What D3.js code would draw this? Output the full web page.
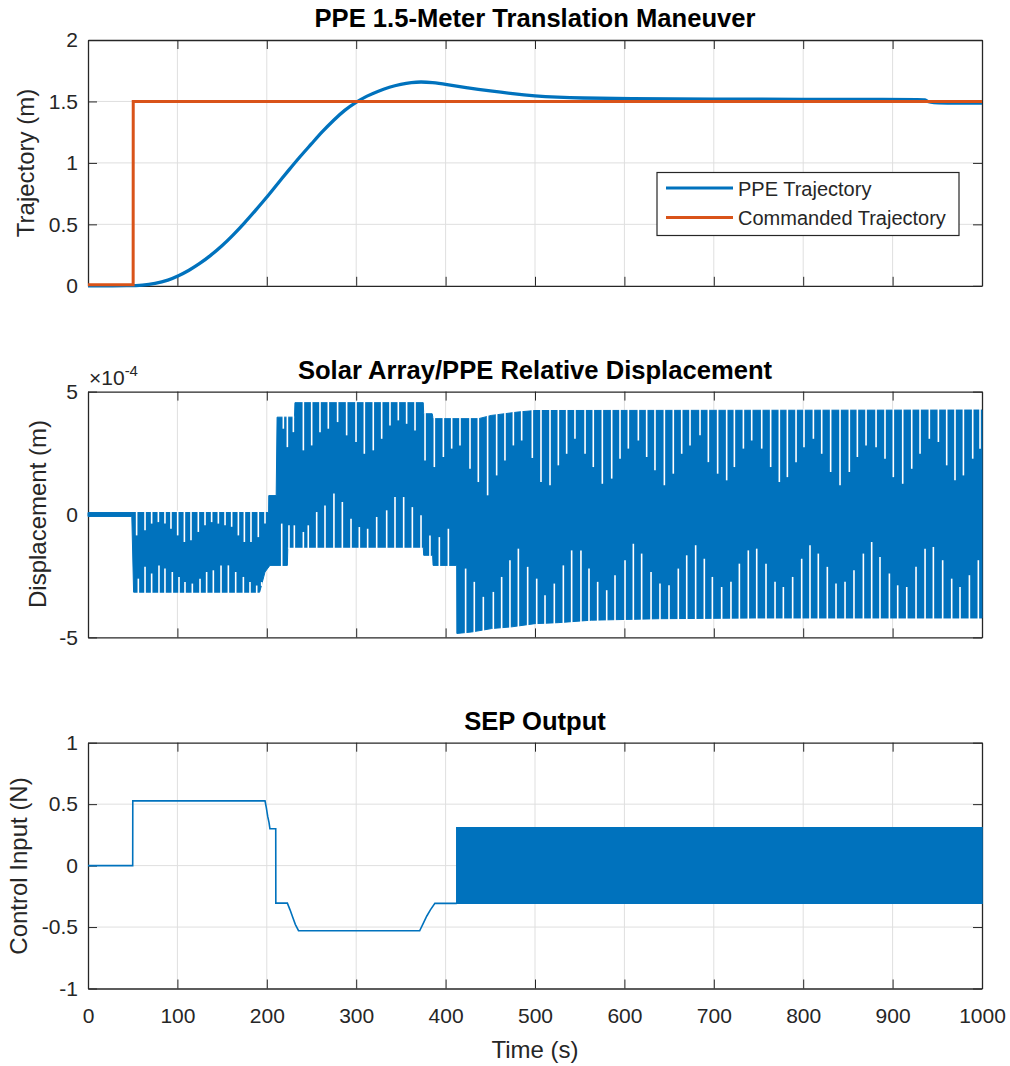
<!DOCTYPE html>
<html lang="en">
<head>
<meta charset="utf-8">
<script src="https://cdn.jsdelivr.net/npm/d3@7"></script>
<style>
  body { margin: 0; background: #fff; }
  text { font-family: "Liberation Sans", Arial, Helvetica, sans-serif; fill: #262626; }
</style>
</head>
<body>
<script>
// ---- data ----
const xTicks = [0, 100, 200, 300, 400, 500, 600, 700, 800, 900, 1000];
const trajTicks = [0, 0.5, 1, 1.5, 2];
const dispTicks = [-5, 0, 5];          // x 1e-4
const ctrlTicks = [-1, -0.5, 0, 0.5, 1];

// PPE trajectory (m)
const ppeT = [0, 50, 60, 75, 90, 101, 113, 125, 137, 150, 162, 175, 187, 200, 212, 225, 237, 250, 262, 275, 287, 300, 312, 325, 337, 350, 362, 372, 385, 400, 425, 450, 475, 500, 525, 550, 600, 700, 800, 900, 932, 936, 939, 942, 1000];
const ppeV = [0, 0, 0.004, 0.018, 0.045, 0.08, 0.125, 0.18, 0.245, 0.325, 0.41, 0.51, 0.61, 0.72, 0.83, 0.945, 1.05, 1.155, 1.255, 1.35, 1.43, 1.495, 1.545, 1.585, 1.617, 1.64, 1.655, 1.66, 1.655, 1.64, 1.61, 1.585, 1.562, 1.545, 1.535, 1.528, 1.522, 1.519, 1.517, 1.516, 1.515, 1.515, 1.5, 1.487, 1.487];
// commanded trajectory (m)
const cmdT = [0, 50.5, 50.6, 1000];
const cmdV = [0.008, 0.008, 1.5, 1.5];

// relative displacement envelope (x 1e-4 m)
const hiT = [0, 202, 202.2, 210.5, 211.5, 231, 231.5, 375, 375.5, 385, 386, 437, 451, 481, 500, 1000];
const hiV = [0.08, 0.08, 0.77, 0.77, 3.96, 3.96, 4.55, 4.55, 4.1, 4.1, 3.9, 3.9, 4.03, 4.17, 4.23, 4.25];
const loT = [0, 49, 51, 192, 198, 203.5, 223, 223.5, 375, 375.5, 385.5, 386, 412.4, 412.6, 429, 451.5, 474, 500, 526, 563, 638, 746, 1000];
const loV = [-0.08, -0.08, -3.16, -3.16, -2.34, -2.07, -2.07, -1.33, -1.33, -1.66, -1.66, -2.07, -2.07, -4.84, -4.78, -4.64, -4.57, -4.44, -4.4, -4.3, -4.24, -4.21, -4.21];
// gaps in the oscillation band: from the upper edge down to value
const topSlitT = [54.4, 63.8, 71.2, 78.7, 86.1, 92.8, 100.3, 107.8, 115.2, 123.4, 130.9, 138.3, 145.8, 153.3, 160.7, 168.2, 174.9, 182.3, 190.5, 198,
  218.5, 223, 229.7, 240.9,
  250.2, 259.5, 268.8, 279.2, 289.3, 299.8, 309.1, 319.1, 328.5, 337.8, 347.1, 356.4, 365.8, 377, 387.4, 397.5, 406.8, 416.1, 427.3, 436.6, 447, 457.1, 466.4, 475.8, 485.1,
  497, 506.7, 516.8, 526.1, 535.4, 544.7, 556, 565.2, 575.3, 585.8, 595.1, 604.4, 615.6, 624.9, 634.2, 644.7, 654.7, 664.1, 673.4, 684.6, 693.9, 704.3, 714.4, 723, 733.1, 742.4,
  753.6, 763.6, 773.3, 782.3, 792, 800.9, 811.4, 820.7, 830.7, 841.2, 851.6, 860.6, 870.3, 881.5, 891.5, 900.8, 911.3, 921.4, 930.7, 941.1, 951.2, 960.5, 969.8, 979.2, 989.6, 997.8];
const topSlitV = [-0.85, -0.64, -0.37, -0.31, -0.37, -0.58, -0.85, -1.12, -1.05, -0.71, -0.44, -0.31, -0.37, -0.44, -0.5, -0.85, -1.12, -1.12, -0.92, -0.37,
  3.49, 2.74, 3.35, 2.61,
  2.81, 3.35, 3.49, 3.76, 3.22, 2.95, 2.47, 2.61, 3.08, 3.62, 3.83, 3.69, 3.42, 2.2, 1.93, 2.34, 2.68, 2.81, 1.86, 1.32, 0.78, 1.59, 2.2, 2.81, 3.01,
  2.3, 1.32, 1.19, 2.0, 2.47, 3.08, 2.47, 1.93, 1.25, 1.46, 2.27, 2.68, 3.01, 2.34, 1.8, 1.19, 1.66, 2.47, 2.81, 3.22, 2.13, 1.66, 1.39, 1.93, 2.68, 3.01,
  2.68, 1.93, 1.32, 1.52, 2.13, 2.74, 3.08, 2.47, 1.73, 1.19, 1.73, 2.34, 2.81, 2.74, 2.27, 1.52, 1.25, 1.86, 2.47, 3.08, 2.95, 2.0, 1.39, 1.59, 2.27, 2.68];
// gaps from the lower edge up to value
const botSlitT = [56.3, 63.8, 71.2, 79.4, 86.1, 94.3, 101.8, 108.5, 116.7, 125.3, 132.7, 140.2, 148.8, 157, 165.2, 173.8, 181.2, 188.7, 194.3,
  216.7, 224.8, 230.8, 240.9,
  246.4, 255.8, 265.1, 275.1, 284.5, 294.2, 303.5, 312.8, 322.9, 334.1, 343.4, 353.1, 362.8, 372.5, 382.5, 393, 403.1, 422.4, 432.1, 442.2, 453.4, 462.7, 472, 481.4,
  491.8, 501.9, 511.2, 521.6, 531.7, 541, 551.4, 560.4, 570.1, 580.2, 589.5, 600.7, 610, 619.3, 629.8, 639.8, 649.9, 660.3, 669.7, 679.7, 689.4, 698.4, 708.8, 719.2, 728.6, 738.6,
  748, 758.4, 768.5, 777.8, 788.2, 798.3, 807.6, 816.9, 827, 836.7, 846.8, 856.8, 867.3, 876.6, 885.9, 896.4, 905.7, 915.8, 926.2, 936.3, 945.6, 956, 966.1, 975.4, 985.9, 995.9];
const botSlitV = [-2.61, -2.13, -2.4, -2.07, -2.2, -2.34, -2.54, -2.75, -2.81, -2.61, -2.34, -2.27, -2.07, -2.07, -2.34, -2.54, -2.75, -2.89, -2.75,
  -0.37, -0.44, -0.44, -0.71,
  -0.44, 0.1, 0.37, 0.85, 0.51, -0.17, -0.51, -0.58, -0.1, 0.17, 0.71, 0.71, 0.3, -0.03, -0.85, -0.92, -0.58, -2.2, -2.74, -3.35, -3.15, -2.54, -1.86, -1.39,
  -2.13, -2.61, -3.29, -2.81, -2.07, -1.46, -1.46, -2.2, -2.74, -3.08, -2.47, -1.86, -1.19, -1.59, -2.34, -2.81, -2.88, -2.2, -1.66, -1.25, -1.8, -2.54, -2.95, -2.74, -2.0, -1.46,
  -1.39, -2.0, -2.74, -2.95, -2.54, -1.8, -1.25, -1.59, -2.13, -2.81, -2.74, -2.27, -1.59, -1.12, -1.73, -2.4, -2.88, -2.95, -2.13, -1.39, -1.32, -1.86, -2.61, -2.95, -2.47, -1.86];

// SEP output (N)
const ctrlT = [0, 50, 50.1, 198, 199.5, 201, 202.5, 203.5, 210, 210.1, 223, 226, 229, 232, 235.5, 371, 375, 379, 383, 388, 412.5];
const ctrlV = [0, 0, 0.527, 0.527, 0.47, 0.4, 0.35, 0.3, 0.3, -0.305, -0.305, -0.36, -0.42, -0.48, -0.53, -0.53, -0.47, -0.41, -0.36, -0.307, -0.307];
// fast switching after t = 412.5 s fills a band
const chatT = [412.5, 1000];
const chatHi = [0.307, 0.307];
const chatLo = [-0.307, -0.307];

// ---- layout ----
const W = 1010, H = 1066;
const left = 88, right = 982, ph = 245.8;
const blue = "#0072BD", orange = "#D95319", ink = "#262626";

let svg = d3.select("body").append("svg")
    .attr("width", W)
    .attr("height", H);
svg.append("rect").attr("width", W).attr("height", H).attr("fill", "#fff");

let x = d3.scaleLinear().domain([0, 1000]).range([left, right]);

function panel(top, domain, yTicks, showX) {
    let y = d3.scaleLinear().domain(domain).range([top + ph, top]);
    let g = svg.append("g");

    // grid
    g.selectAll(".gx").data(xTicks.slice(1, -1)).join("line")
        .attr("x1", d => x(d)).attr("x2", d => x(d))
        .attr("y1", top).attr("y2", top + ph)
        .attr("stroke", "#dfdfdf").attr("stroke-width", 1);
    g.selectAll(".gy").data(yTicks.slice(1, -1)).join("line")
        .attr("x1", left).attr("x2", right)
        .attr("y1", d => y(d)).attr("y2", d => y(d))
        .attr("stroke", "#dfdfdf").attr("stroke-width", 1);

    // axes, ticks pointing inward
    let fmt = d => String(d);
    let ax = [
        g.append("g").attr("transform", `translate(0,${top + ph})`)
            .call(d3.axisBottom(x).tickValues(xTicks).tickSizeInner(-9).tickSizeOuter(0)
                .tickPadding(20).tickFormat(showX ? fmt : "")),
        g.append("g").attr("transform", `translate(0,${top})`)
            .call(d3.axisTop(x).tickValues(xTicks).tickSizeInner(-9).tickSizeOuter(0).tickFormat("")),
        g.append("g").attr("transform", `translate(${left},0)`)
            .call(d3.axisLeft(y).tickValues(yTicks).tickSizeInner(-9).tickSizeOuter(0)
                .tickPadding(10).tickFormat(fmt)),
        g.append("g").attr("transform", `translate(${right},0)`)
            .call(d3.axisRight(y).tickValues(yTicks).tickSizeInner(-9).tickSizeOuter(0).tickFormat(""))
    ];
    ax.forEach(a => {
        a.select(".domain").attr("stroke", ink).attr("stroke-width", 1.3);
        a.selectAll(".tick line").attr("stroke", ink).attr("stroke-width", 1);
        a.selectAll(".tick text").attr("fill", ink).style("font-size", "21px");
        a.attr("font-family", null);
    });
    return { g: g, y: y };
}

function title(txt, yb) {
    svg.append("text").text(txt)
        .attr("x", (left + right) / 2).attr("y", yb)
        .attr("text-anchor", "middle")
        .style("font-size", "25.6px").style("font-weight", "bold").style("fill", "#000");
}

function ylabel(txt, xb, yc) {
    svg.append("text").text(txt)
        .attr("transform", `translate(${xb},${yc}) rotate(-90)`)
        .attr("text-anchor", "middle")
        .style("font-size", "24px");
}

// ---- panel 1: trajectory ----
let p1 = panel(40, [0, 2], trajTicks, false);
let line1 = d3.line().x(d => x(d[0])).y(d => p1.y(d[1]));
p1.g.append("path")
    .attr("d", line1.curve(d3.curveBasis)(d3.zip(ppeT, ppeV)))
    .attr("fill", "none").attr("stroke", blue).attr("stroke-width", 3.3);
p1.g.append("path")
    .attr("d", line1.curve(d3.curveLinear)(d3.zip(cmdT, cmdV)))
    .attr("fill", "none").attr("stroke", orange).attr("stroke-width", 3);

// legend
let lg = svg.append("g");
lg.append("rect").attr("x", 657).attr("y", 172.5).attr("width", 302).attr("height", 63)
    .attr("fill", "#fff").attr("stroke", ink).attr("stroke-width", 1.2);
[["PPE Trajectory", blue, 188], ["Commanded Trajectory", orange, 217.5]].forEach(function (e) {
    lg.append("line").attr("x1", 666).attr("x2", 733).attr("y1", e[2]).attr("y2", e[2])
        .attr("stroke", e[1]).attr("stroke-width", 3);
    lg.append("text").text(e[0]).attr("x", 738).attr("y", e[2] + 7.5)
        .style("font-size", "20px");
});

title("PPE 1.5-Meter Translation Maneuver", 27);
ylabel("Trajectory (m)", 34, 163);

// ---- panel 2: displacement ----
let p2 = panel(391.6, [-5, 5], dispTicks, false);
let hiScale = d3.scaleLinear().domain(hiT).range(hiV);
let loScale = d3.scaleLinear().domain(loT).range(loV);
let band = d3.zip(hiT, hiV).concat(d3.zip(loT, loV).reverse());
p2.g.append("path")
    .attr("d", d3.line().x(d => x(d[0])).y(d => p2.y(d[1]))(band) + "Z")
    .attr("fill", blue).attr("stroke", blue).attr("stroke-width", 1);
p2.g.selectAll(".ts").data(d3.zip(topSlitT, topSlitV)).join("line")
    .attr("x1", d => x(d[0])).attr("x2", d => x(d[0]))
    .attr("y1", d => p2.y(hiScale(d[0]) + 0.06)).attr("y2", d => p2.y(d[1]))
    .attr("stroke", "#fff").attr("stroke-width", 1.6);
p2.g.selectAll(".bs").data(d3.zip(botSlitT, botSlitV)).join("line")
    .attr("x1", d => x(d[0])).attr("x2", d => x(d[0]))
    .attr("y1", d => p2.y(loScale(d[0]) - 0.06)).attr("y2", d => p2.y(d[1]))
    .attr("stroke", "#fff").attr("stroke-width", 1.6);

title("Solar Array/PPE Relative Displacement", 378.5);
ylabel("Displacement (m)", 46, 514);
let ex = svg.append("text").attr("x", 89).attr("y", 385).style("font-size", "21px");
ex.append("tspan").text("\u00d710");
ex.append("tspan").text("-4").attr("dy", -9).style("font-size", "15px");

// ---- panel 3: SEP output ----
let p3 = panel(742.7, [-1, 1], ctrlTicks, true);
p3.g.append("path")
    .attr("d", d3.area().x(d => x(d[0])).y0(d => p3.y(d[2])).y1(d => p3.y(d[1]))(d3.zip(chatT, chatHi, chatLo)))
    .attr("fill", blue).attr("stroke", blue).attr("stroke-width", 1.5);
p3.g.append("path")
    .attr("d", d3.line().x(d => x(d[0])).y(d => p3.y(d[1]))(d3.zip(ctrlT, ctrlV)))
    .attr("fill", "none").attr("stroke", blue).attr("stroke-width", 1.6);

title("SEP Output", 729.5);
ylabel("Control Input (N)", 27, 866);

svg.append("text").text("Time (s)")
    .attr("x", (left + right) / 2).attr("y", 1058)
    .attr("text-anchor", "middle")
    .style("font-size", "24px");
</script>
</body>
</html>
